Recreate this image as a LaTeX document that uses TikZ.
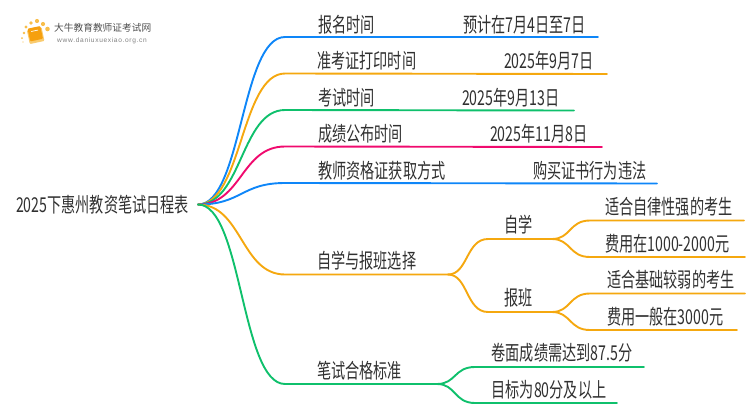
\documentclass[tikz,border=0pt]{standalone}
\usepackage{fontspec}
\setmainfont{Liberation Sans}
\newfontfamily\cjk{Noto Sans CJK SC}
\definecolor{cblue}{HTML}{0E86F8}
\definecolor{corange}{HTML}{F5A80F}
\definecolor{cgreen}{HTML}{0FC06C}
\definecolor{cpink}{HTML}{F00A6E}
\definecolor{ink}{HTML}{303030}
\tikzset{
  lab/.style={inner sep=0pt,anchor=base west,text=ink,font=\cjk\fontsize{20.5}{21}\selectfont,xscale=.69,transform shape},
  wire/.style={line width=1.9pt,line cap=round},
}
\begin{document}
\begin{tikzpicture}[x=1pt,y=-1pt]
\useasboundingbox (0,0) rectangle (750,410);
% logo
\foreach \a/\b/\r in {24/33/1.3,22/38/1.0,23/42/.7,26/27/1.6,31/23/1.9,37/21/2.1,43/24/2.1,47.5/29/2.3}{\fill[corange!75] (\a,\b) circle (\r);}
\fill[corange!60!white,rotate around={12:(34,35)},rounded corners=1pt] (28,29) rectangle (43,43);
\fill[corange!95!red,rotate around={12:(34,35)},rounded corners=1pt] (29,27.5) rectangle (42,40.5);
\draw[white,line width=.7pt,rotate around={12:(34,35)}] (32,31) -- (39,31);
\node[inner sep=0pt,anchor=base west,text=ink!85] (logoa) at (54,31) {\cjk\fontsize{9.7}{10}\selectfont 大牛教育教师证考试网};
\node[inner sep=0pt,anchor=base west,text=gray] (logob) at (57,42) {\fontsize{6.6}{7}\selectfont w\kern.65pt w\kern.65pt w\kern.65pt .\kern.65pt d\kern.65pt a\kern.65pt n\kern.65pt i\kern.65pt u\kern.65pt x\kern.65pt u\kern.65pt e\kern.65pt x\kern.65pt i\kern.65pt a\kern.65pt o\kern.65pt .\kern.65pt o\kern.65pt r\kern.65pt g\kern.65pt .\kern.65pt c\kern.65pt n};
% root
\node[lab] (root) at (16,212) {2025下惠州教资笔试日程表};
\coordinate (r) at (198,204.5);
% texts
\node[lab] (a1) at (318,32) {报名时间};
\node[lab] (a2) at (317,68.5) {准考证打印时间};
\node[lab] (a3) at (318,105) {考试时间};
\node[lab] (a4) at (318,141.5) {成绩公布时间};
\node[lab] (a5) at (318,178) {教师资格证获取方式};
\node[lab] (a6) at (317,268) {自学与报班选择};
\node[lab] (a7) at (317,378) {笔试合格标准};
\node[lab] (b1) at (463,32) {预计在7月4日至7日};
\node[lab] (b2) at (504,68.5) {2025年9月7日};
\node[lab] (b3) at (462,105) {2025年9月13日};
\node[lab] (b4) at (490,141.5) {2025年11月8日};
\node[lab] (b5) at (533,178) {购买证书行为违法};
\node[lab] (c1) at (504,232) {自学};
\node[lab] (c2) at (504,305) {报班};
\node[lab] (d1) at (605,214.5) {适合自律性强的考生};
\node[lab] (d2) at (605,251) {费用在1000-2000元};
\node[lab] (d3) at (607,287.5) {适合基础较弱的考生};
\node[lab] (d4) at (607,324.5) {费用一般在3000元};
\node[lab] (e1) at (491.5,360.5) {卷面成绩需达到87.5分};
\node[lab] (e2) at (491.5,397) {目标为80分及以上};
% junction points
\coordinate (s1) at (285,37); \coordinate (t1) at (598,37);
\coordinate (s2) at (285,73.5); \coordinate (t2) at (607,74);
\coordinate (s3) at (285,110); \coordinate (t3) at (574,110.5);
\coordinate (s4) at (285,146.5); \coordinate (t4) at (602,147);
\coordinate (s5) at (285,183); \coordinate (t5) at (657,183.5);
\coordinate (s6) at (285,274.5); \coordinate (t6) at (448,274.5);
\coordinate (s7) at (285,384); \coordinate (t7) at (437,384);
\coordinate (u1) at (488,239); \coordinate (v1) at (552,239);
\coordinate (u2) at (488,312); \coordinate (v2) at (552,312);
\coordinate (w1) at (590,220.5); \coordinate (x1) at (744,220.5);
\coordinate (w2) at (590,257); \coordinate (x2) at (745,257);
\coordinate (w3) at (590,293.5); \coordinate (x3) at (745,293.5);
\coordinate (w4) at (590,330); \coordinate (x4) at (737,330);
\coordinate (w5) at (475,367); \coordinate (x5) at (644,367);
\coordinate (w6) at (475,403); \coordinate (x6) at (617,403);
% connectors
\draw[wire,cblue] (r) .. controls (242,204.5) and (241,37) .. (s1) -- (t1);
\draw[wire,corange] (r) .. controls (242,204.5) and (241,73.5) .. (s2) -- (t2);
\draw[wire,cgreen] (r) .. controls (242,204.5) and (241,110) .. (s3) -- (t3);
\draw[wire,cpink] (r) .. controls (242,204.5) and (241,146.5) .. (s4) -- (t4);
\draw[wire,cblue] (r) .. controls (242,204.5) and (241,183) .. (s5) -- (t5);
\draw[wire,corange] (r) .. controls (242,204.5) and (241,274.5) .. (s6) -- (t6);
\draw[wire,cgreen] (r) .. controls (242,204.5) and (241,384) .. (s7) -- (t7);
\draw[wire,corange] (t6) .. controls (468,274.5) and (466,239) .. (u1) -- (v1);
\draw[wire,corange] (t6) .. controls (468,274.5) and (466,312) .. (u2) -- (v2);
\draw[wire,corange] (v1) .. controls (571,239) and (569,220.5) .. (w1) -- (x1);
\draw[wire,corange] (v1) .. controls (571,239) and (569,257) .. (w2) -- (x2);
\draw[wire,corange] (v2) .. controls (571,312) and (569,293.5) .. (w3) -- (x3);
\draw[wire,corange] (v2) .. controls (571,312) and (569,330) .. (w4) -- (x4);
\draw[wire,cgreen] (t7) .. controls (456,384) and (454,367) .. (w5) -- (x5);
\draw[wire,cgreen] (t7) .. controls (456,384) and (454,403) .. (w6) -- (x6);
\end{tikzpicture}
\end{document}
